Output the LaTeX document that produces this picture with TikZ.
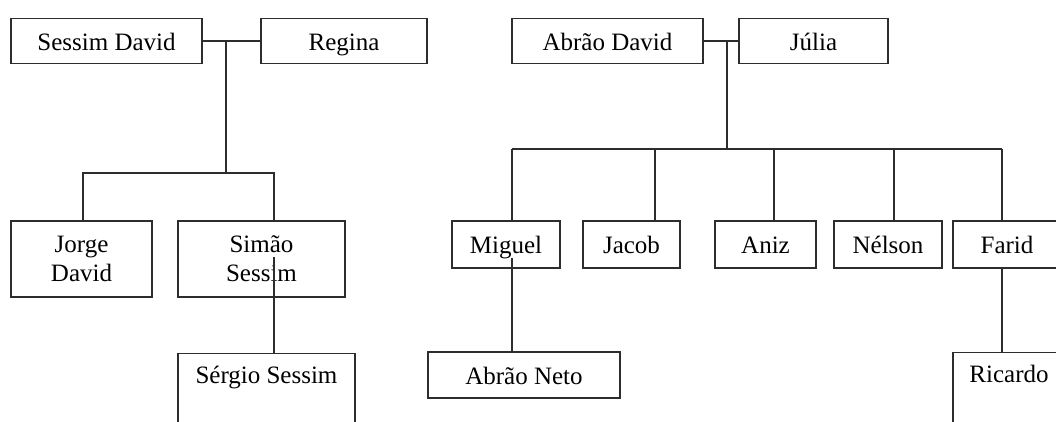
\documentclass[tikz,border=0pt]{standalone}
\usepackage{fontspec}
\setmainfont{Liberation Serif}
\definecolor{linec}{RGB}{45,45,45}
\begin{document}
\begin{tikzpicture}[x=1pt,y=-1pt,
  lin/.style={line width=1.4pt, draw=linec},
  base/.style={draw=linec, line width=1.4pt, inner sep=0pt, font=\fontsize{25}{29}\selectfont},
  box/.style={base, minimum height=45pt, text height=18.75pt, text depth=0pt},
  kid/.style={base, minimum height=47pt, text height=18.75pt, text depth=0pt},
  box2/.style={base, align=center, minimum height=76pt},
  openbox/.style={base, anchor=north, text height=30pt, text depth=90pt}]
\useasboundingbox (0,0) rectangle (1056,422);
\clip (0,0) rectangle (1056,422);

% left family
\node[box, minimum width=191pt] (sd) at (106.5,41) {Sessim David};
\node[box, minimum width=166pt] (reg) at (344,41) {Regina};
\node[box2, minimum width=141pt] (jd) at (81.5,259) {Jorge\\David};
\node[box2, minimum width=167pt] (ss) at (261.5,259) {Simão\\Sessim};
\node[openbox, minimum width=177pt] (sg) at (266.5,353) {Sérgio Sessim};

% right family
\node[box, minimum width=191pt] (ad) at (607.5,41) {Abrão David};
\node[box, minimum width=149pt] (jul) at (813.5,41) {Júlia};
\node[kid, minimum width=108pt] (mig) at (506,244.5) {Miguel};
\node[kid, minimum width=97pt] (jac) at (631.5,244.5) {Jacob};
\node[kid, minimum width=101pt] (ani) at (765.5,244.5) {Aniz};
\node[kid, minimum width=108pt] (nel) at (888,244.5) {Nélson};
\node[kid, minimum width=108pt] (far) at (1007,244.5) {Farid};
\node[box, minimum width=192pt, minimum height=46pt] (an) at (524,375) {Abrão Neto};
\node[openbox, minimum width=112pt] (ric) at (1009,352) {Ricardo};

% left connectors
\coordinate (lb) at (226,173);
\coordinate (jx) at (83,173);
\coordinate (sx) at (274,257);
\draw[lin] (sd.east) -- (reg.west);
\draw[lin] (sd.east -| lb) -- (lb);
\draw[lin] (jx |- jd.north) -- (jx) -- (sx |- lb) -- (sx |- ss.north);
\draw[lin] (sx) -- (sx |- sg.north);

% right connectors
\coordinate (rb) at (727,149);
\coordinate (d1) at (512,149);
\coordinate (d2) at (655,149);
\coordinate (d3) at (774,149);
\coordinate (d4) at (894,149);
\coordinate (d5) at (1002,149);
\coordinate (mx) at (512,258);
\draw[lin] (ad.east) -- (jul.west);
\draw[lin] (ad.east -| rb) -- (rb);
\draw[lin] (d1) -- (d5);
\draw[lin] (d1) -- (d1 |- mig.north);
\draw[lin] (d2) -- (d2 |- jac.north);
\draw[lin] (d3) -- (d3 |- ani.north);
\draw[lin] (d4) -- (d4 |- nel.north);
\draw[lin] (d5) -- (d5 |- far.north);
\draw[lin] (mx) -- (mx |- an.north);
\draw[lin] (d5 |- far.south) -- (d5 |- ric.north);
\end{tikzpicture}
\end{document}
